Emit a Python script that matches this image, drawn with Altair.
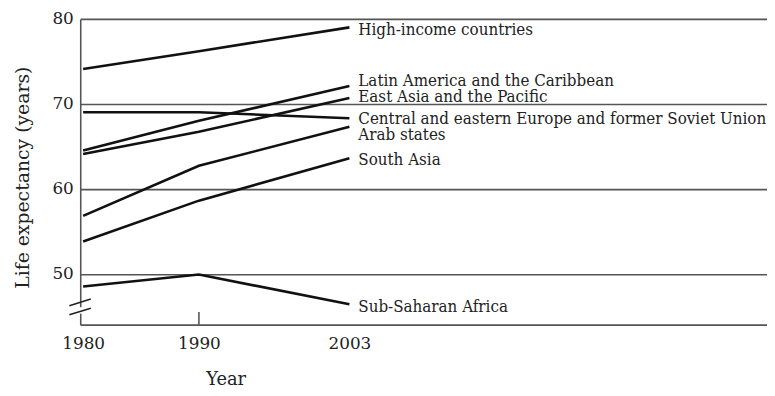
import altair as alt
import pandas as pd

# ---- data ----
years = [1980, 1990, 2003]
regions = [
    "High-income countries",
    "Latin America and the Caribbean",
    "East Asia and the Pacific",
    "Central and eastern Europe and former Soviet Union",
    "Arab states",
    "South Asia",
    "Sub-Saharan Africa",
]
high_income = [74.1, 76.2, 79.0]
latin_america = [64.5, 68.0, 72.1]
east_asia = [64.1, 66.7, 70.7]
central_europe = [69.0, 69.0, 68.3]
arab_states = [56.8, 62.7, 67.3]
south_asia = [53.8, 58.6, 63.6]
sub_saharan = [48.5, 49.9, 46.4]

# vertical positions of the end labels (in years of life expectancy)
label_y = [78.65, 72.67, 70.74, 68.16, 66.31, 63.41, 46.05]

y_ticks = [50, 60, 70, 80]
x_ticks = [1980, 1990, 2003]

# axis-break slashes ("//") and the lone 1990 tick
break_x = [1978.81, 1980.66]
break_y_upper = [46.23, 47.01]
break_y_lower = [45.16, 45.93]
break_gap = [45.3, 46.06]
tick_1990 = [44.0, 45.5]

X_DOMAIN = [1979.75, 2039.07]
Y_DOMAIN = [44, 80]

series = [high_income, latin_america, east_asia, central_europe,
          arab_states, south_asia, sub_saharan]
rows = []
for name, vals in zip(regions, series):
    for yr, v in zip(years, vals):
        rows.append({"region": name, "year": yr, "value": v})
df = pd.DataFrame(rows)

labels_df = pd.DataFrame({"region": regions, "year": [2003] * len(regions), "value": label_y})

FONT = "DejaVu Serif"
LABEL_FONT = "DejaVu Serif Condensed, DejaVu Serif"
GRID = "#555555"

xscale = alt.Scale(domain=X_DOMAIN, nice=False, zero=False)
yscale = alt.Scale(domain=Y_DOMAIN, nice=False, zero=False)

xaxis = alt.Axis(
    values=x_ticks, format="d", grid=False, ticks=False, tickSize=0,
    domainColor=GRID, domainWidth=1.6, labelPadding=11,
    labelFont=FONT, labelFontSize=17, labelColor="#222222",
    title="Year", titleFont=FONT, titleFontSize=18, titleFontWeight="normal",
    titleColor="#222222", titleX=147, titleY=60, titleAlign="center",
    titleBaseline="alphabetic", zindex=0,
)
yaxis = alt.Axis(
    values=y_ticks, grid=True, gridColor=GRID, gridWidth=1.6, gridOpacity=1,
    ticks=False, tickSize=0, domainColor=GRID, domainWidth=1.6,
    labelPadding=7, labelFont=FONT, labelFontSize=17, labelColor="#222222",
    title="Life expectancy (years)", titleFont=FONT, titleFontSize=19,
    titleFontWeight="normal", titleColor="#222222", titleX=-58, titleY=160,
    titleAngle=270, titleAlign="center", titleBaseline="middle", zindex=0,
)

lines = alt.Chart(df).mark_line(color="#111111", strokeWidth=2.6).encode(
    x=alt.X("year:Q", scale=xscale, axis=xaxis),
    y=alt.Y("value:Q", scale=yscale, axis=yaxis),
    detail="region:N",
)

text = alt.Chart(labels_df).mark_text(
    align="left", baseline="middle", dx=9, font=LABEL_FONT, fontSize=17, color="#222222"
).encode(
    x=alt.X("year:Q", scale=xscale),
    y=alt.Y("value:Q", scale=yscale),
    text="region:N",
)

tick_df = pd.DataFrame({"x": [1990], "y": [tick_1990[0]], "y2": [tick_1990[1]]})
tick = alt.Chart(tick_df).mark_rule(color=GRID, strokeWidth=1.6).encode(
    x=alt.X("x:Q", scale=xscale), y=alt.Y("y:Q", scale=yscale), y2="y2:Q"
)

gap_df = pd.DataFrame({"x": [X_DOMAIN[0]], "y": [break_gap[0]], "y2": [break_gap[1]]})
gap = alt.Chart(gap_df).mark_rule(color="white", strokeWidth=4).encode(
    x=alt.X("x:Q", scale=xscale), y=alt.Y("y:Q", scale=yscale), y2="y2:Q"
)

slash_df = pd.DataFrame({
    "x": [break_x[0], break_x[0]], "x2": [break_x[1], break_x[1]],
    "y": [break_y_upper[0], break_y_lower[0]], "y2": [break_y_upper[1], break_y_lower[1]],
})
slashes = alt.Chart(slash_df).mark_rule(color="#222222", strokeWidth=1.6).encode(
    x=alt.X("x:Q", scale=xscale), x2="x2:Q",
    y=alt.Y("y:Q", scale=yscale), y2="y2:Q",
)

chart = alt.layer(lines, tick, gap, slashes, text).properties(
    width=694, height=309,
    autosize=alt.AutoSizeParams(type="none"),
    padding={"left": 73, "top": 9, "right": 0, "bottom": 62},
    background="white",
).configure_view(stroke=None)

chart.save("out.html", embed_options={"renderer": "svg", "actions": False})
